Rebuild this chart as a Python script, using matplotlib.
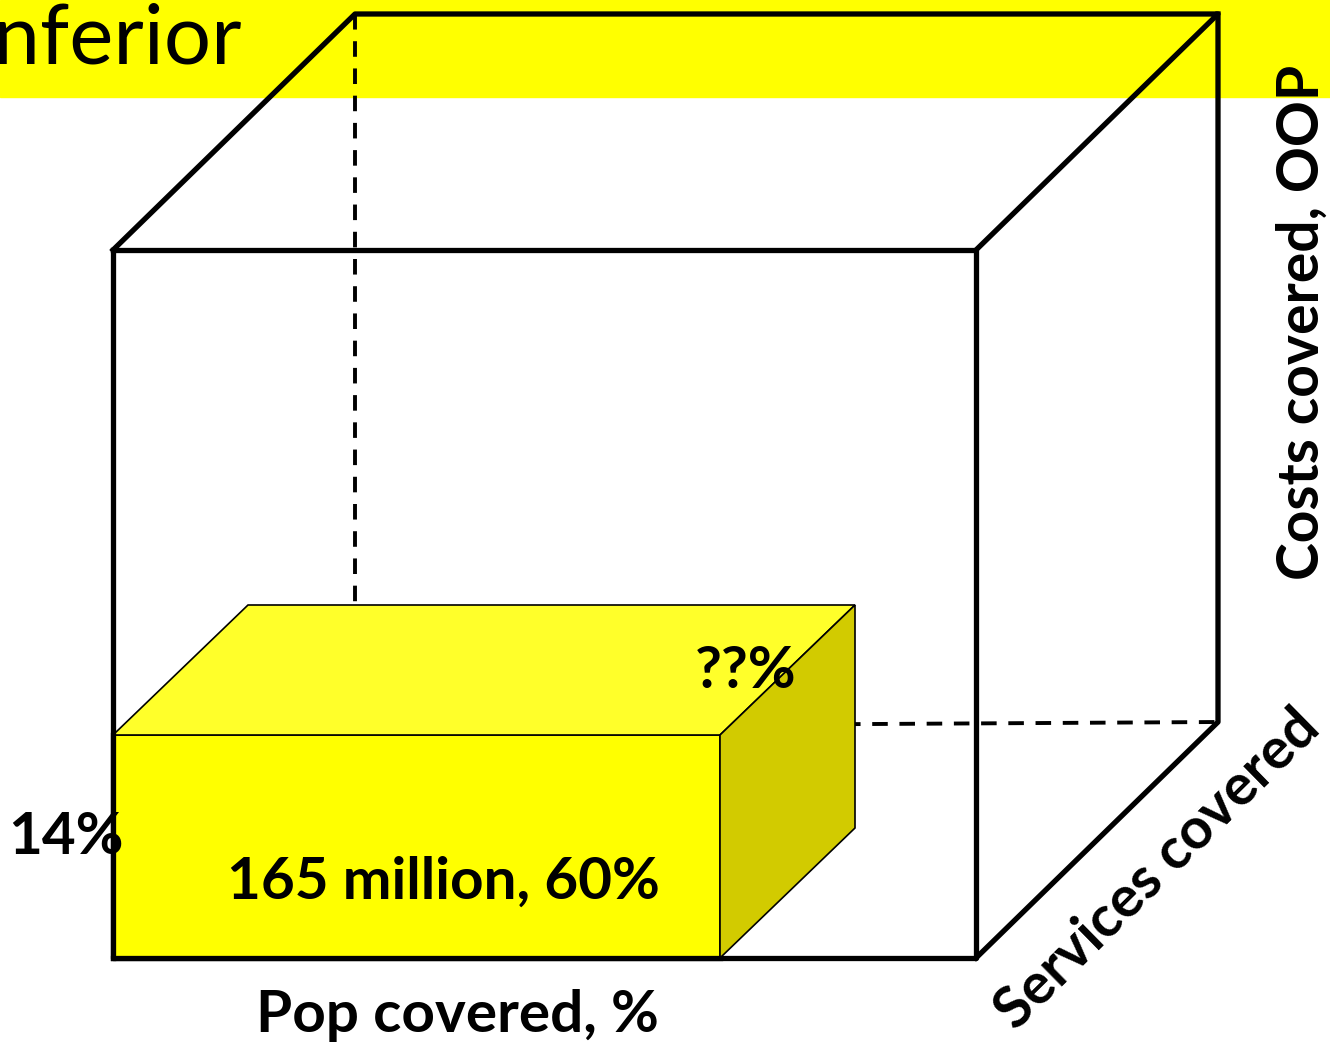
import matplotlib.pyplot as plt
from matplotlib.patches import Polygon, Rectangle

# labels on the coverage cube
title_word = "Inferior"
axis_labels = ["Pop covered, %", "Services covered", "Costs covered, OOP"]
pop_label = "165 million, 60%"
cost_label = "14%"
service_label = "??%"

plt.rcParams['font.family'] = ['Lato', 'DejaVu Sans']

fig = plt.figure(figsize=(13.3, 10.42), dpi=100)
ax = fig.add_axes([0, 0, 1, 1])
ax.set_xlim(0, 1330)
ax.set_ylim(1042, 0)
ax.axis('off')

# yellow title banner (word runs off the left edge, as in the slide)
ax.add_patch(Rectangle((0, 0), 1330, 97, color='#FFFF00', zorder=0))
ax.text(-30, 40, title_word, fontsize=60, va='center', ha='left', color='black')

# outer cube
dx, dy = 242, -236
L, R, T, B = 113, 976, 250, 958
lw = 3.8
ax.plot([L, R, R, L, L], [T, T, B, B, T], color='black', lw=lw, zorder=2)
ax.plot([L, L + dx, R + dx, R], [T, T + dy, T + dy, T], color='black', lw=lw, zorder=2)
ax.plot([R + dx, R + dx, R], [T + dy, B + dy, B], color='black', lw=lw, zorder=2)
# hidden edges
ax.plot([L + dx, L + dx], [T + dy, B + dy], color='black', lw=2.8, ls=(0, (4, 3)), zorder=1)
ax.plot([L + dx, R + dx], [B + dy + 5, B + dy], color='black', lw=2.8, ls=(0, (4, 3)), zorder=1)

# inner yellow box
bl, br, bt, bb = 113, 720, 735, 958
ddx, ddy = 135, -130
front = Polygon([(bl, bt), (br, bt), (br, bb), (bl, bb)], closed=True,
                facecolor='#FFFF00', edgecolor='black', lw=1.2, zorder=3)
top = Polygon([(bl, bt), (bl + ddx, bt + ddy), (br + ddx, bt + ddy), (br, bt)], closed=True,
              facecolor='#FFFF2A', edgecolor='black', lw=1.2, zorder=3)
side = Polygon([(br, bt), (br + ddx, bt + ddy), (br + ddx, bb + ddy), (br, bb)], closed=True,
               facecolor='#D2CB00', edgecolor='black', lw=1.2, zorder=3)
for p in (front, top, side):
    ax.add_patch(p)
ax.plot([bl, bl], [bt, bb], color='black', lw=lw, zorder=4)
ax.plot([bl, br], [bb, bb], color='black', lw=lw, zorder=4)

# value labels
ax.text(443, 882, pop_label, fontsize=42, fontweight='bold', ha='center', va='center', zorder=5)
ax.text(66, 838, cost_label, fontsize=42, fontweight='bold', ha='center', va='center', zorder=5)
ax.text(746, 672, service_label, fontsize=42, fontweight='bold', ha='center', va='center', zorder=5)

# axis labels
ax.text(457, 1015, axis_labels[0], fontsize=42, fontweight='bold', ha='center', va='center')
ax.text(1158, 870, axis_labels[1], fontsize=41, fontweight='bold', ha='center', va='center',
        rotation=44.5, rotation_mode='anchor')
ax.text(1302, 322, axis_labels[2], fontsize=41, fontweight='bold', ha='center', va='center',
        rotation=90)

fig.savefig('out.png', dpi=100)
